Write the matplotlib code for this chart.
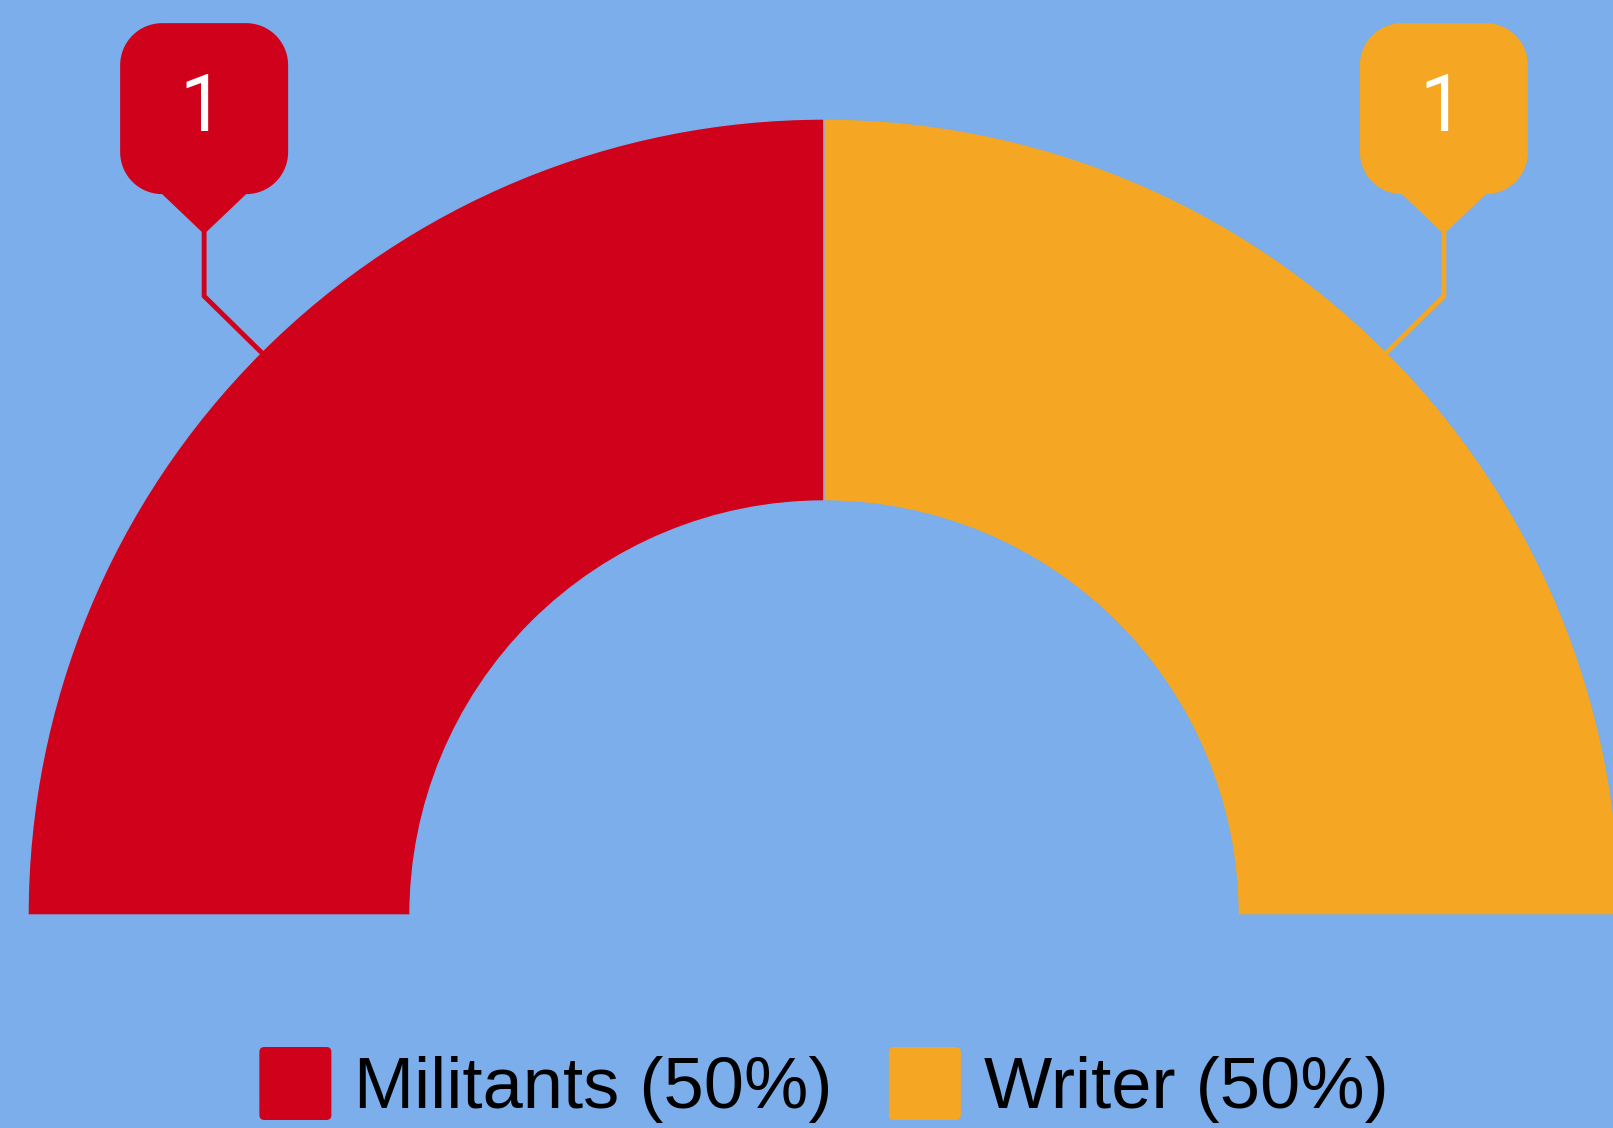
import numpy as np
import matplotlib.pyplot as plt
from matplotlib.patches import FancyBboxPatch, Polygon

# 数据
categories = ["Militants", "Writer"]
values = [1, 1]
colors = ["#D0021B", "#F5A623"]
bg = "#7BAEEA"

W, H = 1613, 1128
fig = plt.figure(figsize=(W / 100, H / 100), dpi=100, facecolor=bg)
ax = fig.add_axes([0, 0, 1, 1])
ax.set_facecolor(bg)
plt.rcParams['font.family'] = ['Liberation Sans', 'DejaVu Sans']


def callout_shape(tx, ty, bw=168, bh=171, rad=42, ph=40, pw=42):
    """圆角矩形 + 底部尖角，尖端在 (tx, ty)"""
    x0, x1 = tx - bw / 2, tx + bw / 2
    y0, y1 = ty + ph, ty + ph + bh
    pts = [(tx, ty), (tx + pw, y0)]
    corners = [(x1 - rad, y0 + rad, -90, 0), (x1 - rad, y1 - rad, 0, 90),
               (x0 + rad, y1 - rad, 90, 180), (x0 + rad, y0 + rad, 180, 270)]
    for ccx, ccy, a0, a1 in corners:
        a = np.deg2rad(np.linspace(a0, a1, 20))
        pts += list(zip(ccx + rad * np.cos(a), ccy + rad * np.sin(a)))
    pts.append((tx - pw, y0))
    return pts


# 半环形图
cx, cy = 824, 213
R, r = 796, 414
total = sum(values)
vals = list(values) + [total]  # 下半部分隐藏
wedges, _ = ax.pie(vals, colors=colors + ["none"], startangle=180, counterclock=False,
                   radius=R, center=(cx, cy),
                   wedgeprops=dict(width=R - r, edgecolor=bg, linewidth=1))
wedges[-1].set_visible(False)
ax.set_xlim(0, W)
ax.set_ylim(0, H)
ax.set_aspect('auto')
ax.axis('off')

# 标注框
for w, v, c in zip(wedges[:-1], values, colors):
    th = np.deg2rad((w.theta1 + w.theta2) / 2)
    px, py = cx + R * np.cos(th), cy + R * np.sin(th)
    s = np.sign(np.cos(th))
    ex, ey = px + s * 57, py + 56
    tx, ty = ex, ey + 62
    ax.plot([px, ex, tx], [py, ey, ty], color=c, lw=3.5, solid_joinstyle='miter', zorder=3)
    ax.add_patch(Polygon(callout_shape(tx, ty), closed=True,
                         facecolor=c, edgecolor='none', zorder=4))
    ax.text(tx - 2, ty + 40 + 85.5, str(v), color='white', fontsize=57,
            family=['Roboto', 'DejaVu Sans'], ha='center', va='center', zorder=5)

# 图例
fig.canvas.draw()
rend = fig.canvas.get_renderer()
labels = [f"{cat} ({v / total * 100:.0f}%)" for cat, v in zip(categories, values)]
sq, gap1, gap2 = 72, 23, 56
texts = []
widths = []
for lab in labels:
    t = ax.text(0, 20, lab, fontsize=52, color='black', ha='left', va='baseline')
    widths.append(t.get_window_extent(rend).width)
    texts.append(t)
tot_w = sum(sq + gap1 + w_ for w_ in widths) + gap2 * (len(labels) - 1)
x = cx - tot_w / 2
for t, w_, c in zip(texts, widths, colors):
    ax.add_patch(FancyBboxPatch((x, 8), sq, 73, boxstyle="round,pad=0,rounding_size=5",
                                facecolor=c, edgecolor='none'))
    t.set_x(x + sq + gap1)
    x += sq + gap1 + w_ + gap2

fig.savefig("out.png", dpi=100, facecolor=bg)
